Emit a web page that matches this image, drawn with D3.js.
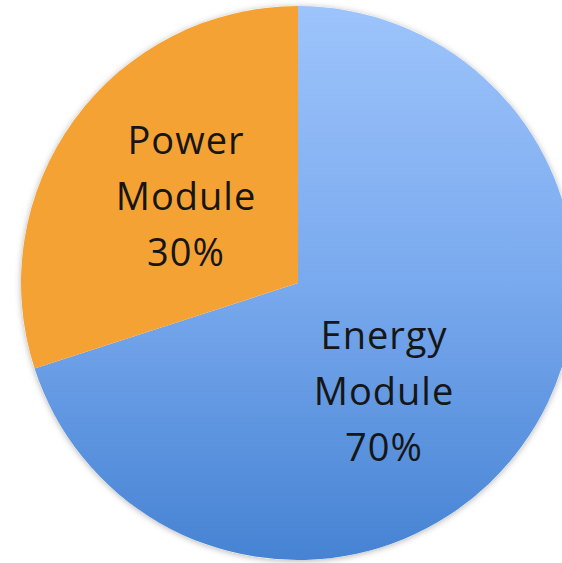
<!DOCTYPE html>
<html>
<head>
<meta charset="utf-8">
<script src="https://cdn.jsdelivr.net/npm/d3@7"></script>
<style>
  html, body { margin: 0; padding: 0; background: #fff; overflow: hidden; }
  .lbl { font-family: "Open Sans", sans-serif; font-size: 38px; letter-spacing: 1px; fill: #161616; }
</style>
</head>
<body>
<div id="chart"></div>
<script>
// data
var modules = ["Energy Module", "Power Module"];
var shares = [70, 30];
var labelLines = [["Energy", "Module", "70%"], ["Power", "Module", "30%"]];

var svgWidth = 562;
var svgHeight = 563;
var cx = 298, cy = 283, radius = 277;

const svg = d3.select("#chart")
    .append("svg")
    .attr("width", svgWidth)
    .attr("height", svgHeight);

const defs = svg.append("defs");

// gradient coords live in the translated chart space
const grad = defs.append("linearGradient")
    .attr("id", "blueGrad")
    .attr("gradientUnits", "userSpaceOnUse")
    .attr("x1", 0).attr("y1", -radius)
    .attr("x2", 0).attr("y2", radius);
grad.append("stop").attr("offset", "0%").attr("stop-color", "#9dc4fb");
grad.append("stop").attr("offset", "50%").attr("stop-color", "#79a9ee");
grad.append("stop").attr("offset", "100%").attr("stop-color", "#4683d3");

const shadow = defs.append("filter")
    .attr("id", "shadow")
    .attr("x", "-10%").attr("y", "-10%")
    .attr("width", "120%").attr("height", "120%");
shadow.append("feDropShadow")
    .attr("dx", 0).attr("dy", 1)
    .attr("stdDeviation", 3)
    .attr("flood-color", "#000")
    .attr("flood-opacity", 0.3);

const colors = d3.scaleOrdinal()
    .domain(modules)
    .range(["url(#blueGrad)", "#f5a234"]);

const table = modules.map((m, i) => ({ name: m, value: shares[i], lines: labelLines[i] }));

const pie = d3.pie()
    .sort(null)
    .value(d => d.value);

const arc = d3.arc()
    .innerRadius(0)
    .outerRadius(radius);

const chart = svg.append("g")
    .attr("transform", `translate(${cx}, ${cy})`);

chart.append("circle")
    .attr("r", radius)
    .attr("fill", "#fff")
    .attr("filter", "url(#shadow)");

chart.selectAll("path.slice")
    .data(pie(table))
    .enter()
    .append("path")
    .attr("class", "slice")
    .attr("d", arc)
    .attr("fill", d => colors(d.data.name));

// label anchors (middle line centre), relative to pie centre
const labelAnchor = { "Energy Module": [86, 110], "Power Module": [-112, -85] };
const lineGap = 56;

const labels = chart.selectAll("g.lbl-g")
    .data(pie(table))
    .enter()
    .append("g")
    .attr("class", "lbl-g")
    .attr("transform", d => `translate(${labelAnchor[d.data.name][0]}, ${labelAnchor[d.data.name][1]})`);

labels.selectAll("text")
    .data(d => d.data.lines)
    .enter()
    .append("text")
    .attr("class", "lbl")
    .attr("text-anchor", "middle")
    .attr("x", 0)
    .attr("y", (d, i) => (i - 1) * lineGap + 12)
    .text(d => d);
</script>
</body>
</html>
